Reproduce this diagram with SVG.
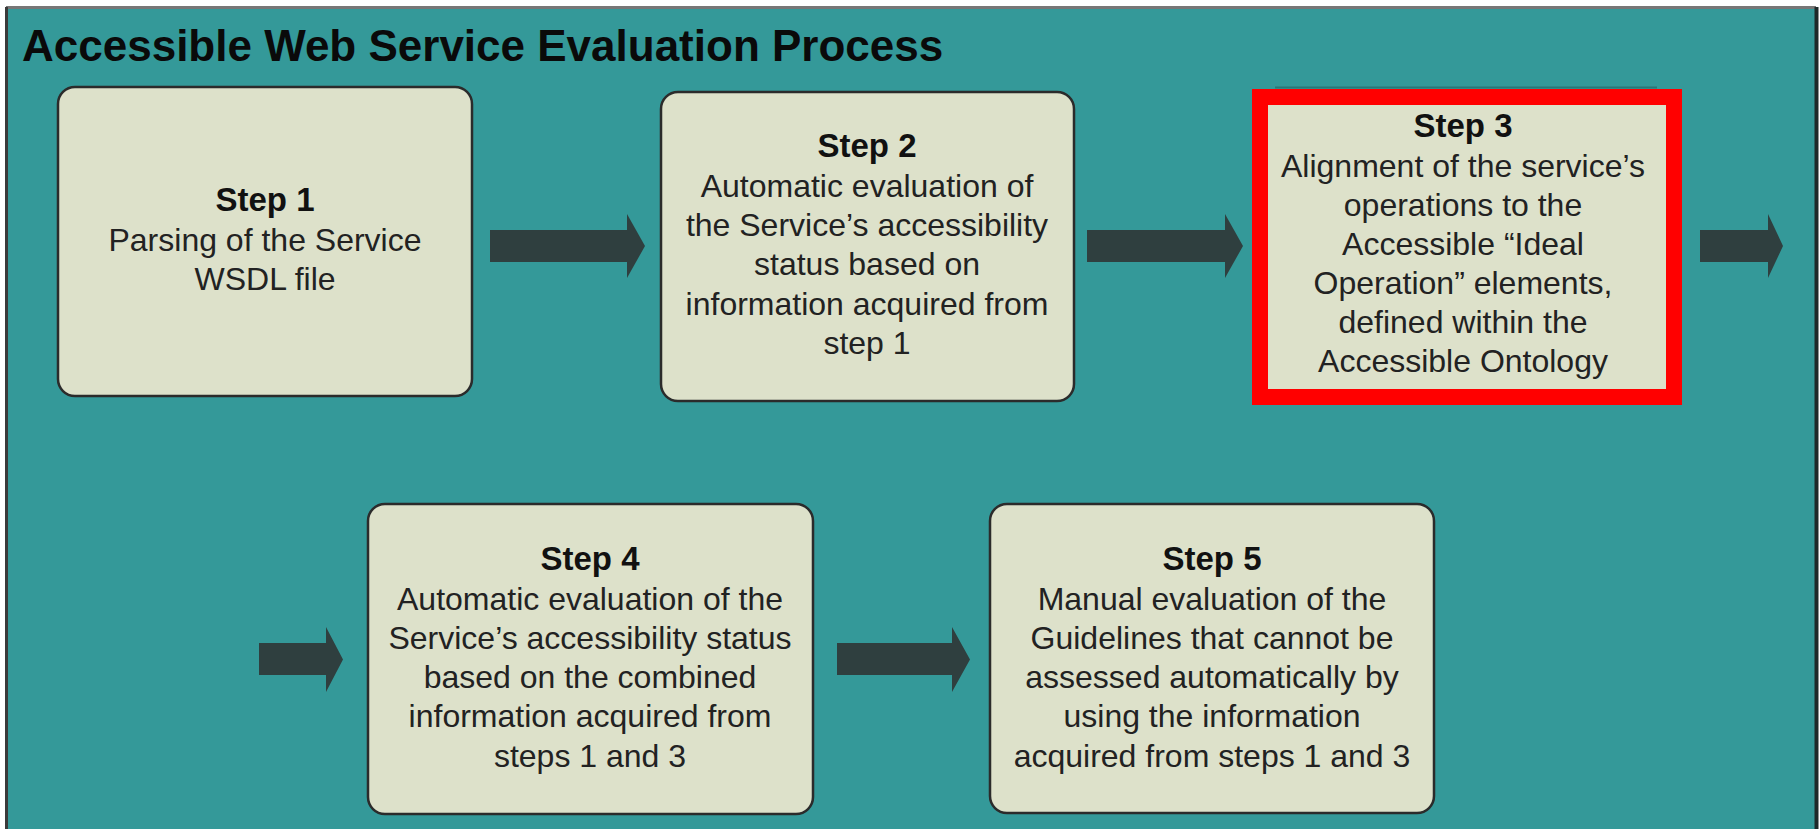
<svg xmlns="http://www.w3.org/2000/svg" width="1819" height="829" viewBox="0 0 1819 829">
<style>
.box{fill:#dde1ca;stroke:#2b2b2b;stroke-width:2.5}
.h{font-family:"Liberation Sans",Arial,sans-serif;font-weight:bold;font-size:33px;fill:#111;text-anchor:middle}
.t{font-family:"Liberation Sans",Arial,sans-serif;font-size:32px;fill:#222;text-anchor:middle}
.arr{fill:#2f3f3f}
</style>
<rect x="0" y="0" width="1819" height="829" fill="#ffffff"/>
<g id="frame">
<rect x="6" y="7" width="1810" height="830" fill="#349999"/>
<line x1="6" y1="7.5" x2="1816" y2="7.5" stroke="#777" stroke-width="3"/>
<line x1="6.5" y1="7" x2="6.5" y2="829" stroke="#3a3a3a" stroke-width="3"/>
<line x1="1816.5" y1="7" x2="1816.5" y2="829" stroke="#1e2a2a" stroke-width="4"/>
<text x="22" y="61" style="font-family:'Liberation Sans',Arial,sans-serif;font-weight:bold;font-size:44px;fill:#0a0a0a">Accessible Web Service Evaluation Process</text>
</g>
<g id="step1">
<rect class="box" x="58" y="87" width="414" height="309" rx="17"/>
<text class="h" x="265" y="211">Step 1</text>
<text class="t" x="265" y="251">Parsing of the Service</text>
<text class="t" x="265" y="290">WSDL file</text>
</g>
<g id="step2">
<rect class="box" x="661" y="92" width="413" height="309" rx="17"/>
<text class="h" x="867" y="157">Step 2</text>
<text class="t" x="867" y="197">Automatic evaluation of</text>
<text class="t" x="867" y="236">the Service’s accessibility</text>
<text class="t" x="867" y="275">status based on</text>
<text class="t" x="867" y="315">information acquired from</text>
<text class="t" x="867" y="354">step 1</text>
</g>
<g id="step3">
<line x1="1275" y1="87.5" x2="1657" y2="87.5" stroke="#2a7676" stroke-width="2"/>
<rect x="1260" y="97" width="414" height="300" fill="#dde1ca" stroke="#ff0000" stroke-width="16"/>
<text class="h" x="1463" y="137">Step 3</text>
<text class="t" x="1463" y="177">Alignment of the service’s</text>
<text class="t" x="1463" y="216">operations to the</text>
<text class="t" x="1463" y="255">Accessible “Ideal</text>
<text class="t" x="1463" y="294">Operation” elements,</text>
<text class="t" x="1463" y="333">defined within the</text>
<text class="t" x="1463" y="372">Accessible Ontology</text>
</g>
<g id="step4">
<rect class="box" x="368" y="504" width="445" height="310" rx="17"/>
<text class="h" x="590" y="570">Step 4</text>
<text class="t" x="590" y="610">Automatic evaluation of the</text>
<text class="t" x="590" y="649">Service’s accessibility status</text>
<text class="t" x="590" y="688">based on the combined</text>
<text class="t" x="590" y="727">information acquired from</text>
<text class="t" x="590" y="767">steps 1 and 3</text>
</g>
<g id="step5">
<rect class="box" x="990" y="504" width="444" height="309" rx="17"/>
<text class="h" x="1212" y="570">Step 5</text>
<text class="t" x="1212" y="610">Manual evaluation of the</text>
<text class="t" x="1212" y="649">Guidelines that cannot be</text>
<text class="t" x="1212" y="688">assessed automatically by</text>
<text class="t" x="1212" y="727">using the information</text>
<text class="t" x="1212" y="767">acquired from steps 1 and 3</text>
</g>
<g id="connectors">
<polygon class="arr" points="490,230 627,230 627,214 645,246 627,278 627,262 490,262"/>
<polygon class="arr" points="1087,230 1225,230 1225,214 1243,246 1225,278 1225,262 1087,262"/>
<polygon class="arr" points="1700,230 1768,230 1768,214 1783,246 1768,278 1768,262 1700,262"/>
<polygon class="arr" points="259,643 326,643 326,627 343,659.5 326,692 326,675 259,675"/>
<polygon class="arr" points="837,643 952,643 952,627 970,659.5 952,692 952,675 837,675"/>
</g>
</svg>
